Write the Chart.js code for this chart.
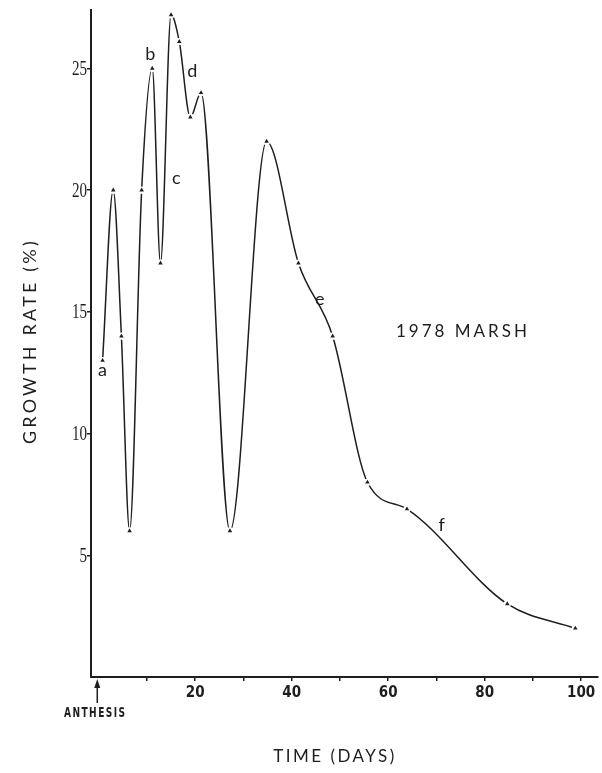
<!DOCTYPE html>
<html>
<head>
<meta charset="utf-8">
<script src="https://cdn.jsdelivr.net/npm/chart.js@4/dist/chart.umd.min.js"></script>
<style>
  html, body { margin: 0; padding: 0; background: #fff; }
  #wrap { width: 602px; height: 773px; position: relative; }
</style>
</head>
<body>
<div id="wrap"><canvas id="c" width="602" height="773"></canvas></div>
<script>
// Sampling days after anthesis and measured growth rate (%)
const days = [0.8, 3, 4.7, 6.4, 8.9, 11.1, 12.8, 15, 16.7, 19, 21.2, 27.2, 34.8, 41.4, 48.5, 55.7, 63.9, 84.7, 98.8];
const growthRate = [13, 20, 14, 6, 20, 25, 17, 27.2, 26.1, 23, 24, 6, 22, 17, 14, 8, 6.9, 3, 2];

// Tick values
const xTicks = [10, 20, 30, 40, 50, 60, 70, 80, 90, 100];
const xLabelled = [20, 40, 60, 80, 100];
const yTicks = [5, 10, 15, 20, 25];

// Phase letters placed along the curve
const phaseLetters = ['a', 'b', 'c', 'd', 'e', 'f'];
const phaseX = [0.8, 10.7, 16.1, 19.4, 45.8, 71.1];
const phaseY = [12.6, 25.6, 20.5, 24.9, 15.5, 6.25];

const points = days.map((d, i) => ({ x: d, y: growthRate[i] }));
const INK = '#1e1e1e';

// draw text squeezed horizontally (condensed look)
function narrowText(ctx, text, x, y, sx, align) {
  ctx.save();
  ctx.translate(x, y);
  ctx.scale(sx, 1);
  ctx.textAlign = align;
  ctx.fillText(text, 0, 0);
  ctx.restore();
}

const annotations = {
  id: 'annotations',
  afterDraw(chart) {
    const { ctx, scales: { x, y } } = chart;
    ctx.save();
    ctx.fillStyle = INK;
    ctx.textAlign = 'center';
    ctx.textBaseline = 'middle';

    // y tick labels in a narrow serif
    ctx.font = '21px "Liberation Serif", "DejaVu Serif", serif';
    yTicks.forEach(v => {
      narrowText(ctx, String(v), 87, y.getPixelForValue(v) + 1, 0.72, 'right');
    });

    // phase letters
    ctx.font = '18px "Lato", "DejaVu Sans", sans-serif';
    phaseLetters.forEach((t, i) => {
      ctx.fillText(t, x.getPixelForValue(phaseX[i]), y.getPixelForValue(phaseY[i]));
    });

    // site / year label
    ctx.font = '17px "Lato", "DejaVu Sans", sans-serif';
    ctx.letterSpacing = '3px';
    ctx.fillText('1978 MARSH', x.getPixelForValue(75.5), y.getPixelForValue(14.2));

    // anthesis marker below day 0
    const ax = x.getPixelForValue(-0.3);
    const base = y.getPixelForValue(0);
    ctx.strokeStyle = INK;
    ctx.lineWidth = 1.5;
    ctx.beginPath();
    ctx.moveTo(ax, base + 6);
    ctx.lineTo(ax, base + 26);
    ctx.stroke();
    ctx.beginPath();
    ctx.moveTo(ax, base + 2);
    ctx.lineTo(ax - 3, base + 11);
    ctx.lineTo(ax + 3, base + 11);
    ctx.closePath();
    ctx.fill();
    ctx.letterSpacing = '2px';
    ctx.font = 'bold 14px "DejaVu Sans Condensed", "Liberation Sans Narrow", sans-serif';
    narrowText(ctx, 'ANTHESIS', ax - 2, base + 36, 0.72, 'center');

    // axis titles
    ctx.letterSpacing = '2.5px';
    ctx.font = '17px "Lato", "DejaVu Sans", sans-serif';
    ctx.fillText('TIME (DAYS)', 335, 757);

    ctx.save();
    ctx.translate(30, 341);
    ctx.rotate(-Math.PI / 2);
    ctx.letterSpacing = '3.2px';
    ctx.font = '18px "Lato", "DejaVu Sans", sans-serif';
    ctx.fillText('GROWTH RATE (%)', 0, 0);
    ctx.restore();

    ctx.restore();
  }
};

new Chart(document.getElementById('c'), {
  type: 'scatter',
  data: {
    datasets: [
      {
        // triangle markers at each reading (drawn on top)
        data: points,
        showLine: false,
        pointStyle: 'triangle',
        pointRadius: 2.6,
        pointBackgroundColor: INK,
        pointBorderColor: INK,
        pointBorderWidth: 0
      },
      {
        // smooth curve; white discs leave a small gap around each reading
        data: points,
        showLine: true,
        borderColor: INK,
        borderWidth: 1.5,
        cubicInterpolationMode: 'monotone',
        pointRadius: 3.6,
        pointBackgroundColor: '#fff',
        pointBorderColor: '#fff',
        pointBorderWidth: 0
      }
    ]
  },
  options: {
    responsive: false,
    animation: false,
    events: [],
    layout: { padding: { top: 10, right: 1, left: 0, bottom: 0 } },
    plugins: { legend: { display: false }, tooltip: { enabled: false } },
    scales: {
      x: {
        type: 'linear',
        min: -1.6,
        max: 103.5,
        afterBuildTicks: (s) => { s.ticks = xTicks.map(v => ({ value: v })); },
        afterFit: (s) => { s.height = 96; },
        border: { display: true, color: INK, width: 2 },
        grid: { drawOnChartArea: false, drawTicks: true, tickLength: 4, color: INK, lineWidth: 1.5 },
        ticks: {
          color: INK,
          padding: 3,
          maxRotation: 0,
          autoSkip: false,
          font: { family: '"DejaVu Sans Condensed", "Liberation Sans Narrow", sans-serif', size: 15, weight: 'bold' },
          callback: (v) => xLabelled.includes(v) ? String(v) : ''
        }
      },
      y: {
        type: 'linear',
        min: 0,
        max: 27.4,
        afterBuildTicks: (s) => { s.ticks = yTicks.map(v => ({ value: v })); },
        afterFit: (s) => { s.width = 91; },
        border: { display: true, color: INK, width: 2 },
        grid: { drawOnChartArea: false, drawTicks: true, tickLength: 4, color: INK, lineWidth: 1.5 },
        ticks: {
          color: 'rgba(0,0,0,0)',
          padding: 1,
          autoSkip: false,
          font: { size: 12 },
          callback: (v) => String(v)
        }
      }
    }
  },
  plugins: [annotations]
});
</script>
</body>
</html>
